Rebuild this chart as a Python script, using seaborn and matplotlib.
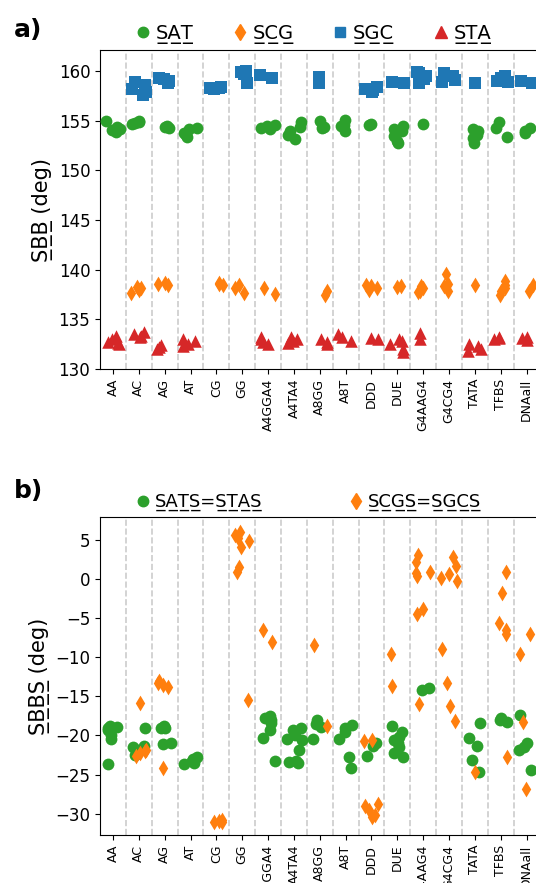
import numpy as np
import pandas as pd
import matplotlib.pyplot as plt
from matplotlib.lines import Line2D
import seaborn as sns

# categorias (passos / sistemas)
categories = ['AA', 'AC', 'AG', 'AT', 'CG', 'GG', 'A4GGA4', 'A4TA4', 'A8GG', 'A8T',
              'DDD', 'DUE', 'G4AAG4', 'G4CG4', 'TATA', 'TFBS', 'DNAall']

# painel a) SBB (deg), uma lista por categoria
sat = [[155.0, 154.4, 154.1, 153.9, 154.2], [154.9, 155.0, 154.7, 154.8], [154.4, 154.5, 154.3],
       [154.2, 153.8, 153.4, 154.3, 153.6], [], [], [154.5, 154.6, 154.3, 154.2],
       [154.9, 154.0, 153.2, 154.4, 153.6], [155.0, 154.4, 154.3], [155.1, 154.5, 154.0, 154.6],
       [154.7, 154.6], [154.5, 154.0, 153.5, 152.8, 154.2, 153.0], [154.7], [],
       [154.2, 153.6, 153.3, 152.8, 154.0], [154.9, 153.4, 154.3], [154.3, 154.0, 153.8]]
scg = [[], [138.2, 138.0, 138.3, 137.7], [138.6, 138.5, 138.7], [], [138.6, 138.5, 138.7],
       [138.2, 138.5, 137.7], [138.2, 137.6], [], [137.9, 137.5], [], [138.4, 138.2, 138.5, 138.0],
       [138.3, 138.4], [138.2, 137.8, 138.4, 137.9], [139.6, 138.4, 137.9, 138.6], [138.5],
       [138.9, 138.5, 137.9, 137.5, 138.2], [138.5, 137.9]]
sgc = [[], [157.6, 157.9, 158.2, 158.6, 158.9], [159.2, 159.0, 158.8, 159.3], [],
       [158.3, 158.3, 158.2, 158.4], [159.9, 159.7, 160.0, 158.8], [159.3, 159.6], [],
       [159.4, 158.8], [], [158.2, 157.9, 158.1, 158.4], [158.8, 158.9],
       [159.8, 159.5, 159.9, 158.8, 159.2], [159.8, 159.5, 159.1, 158.9], [158.8],
       [159.3, 159.5, 158.9, 159.0], [159.0, 158.8]]
sta = [[132.5, 132.7, 133.0, 133.3, 132.6], [133.5, 133.3, 133.7, 133.2], [132.2, 132.0, 132.4],
       [132.8, 132.3, 133.0, 132.5], [], [], [133.0, 132.7, 133.2, 132.5],
       [133.0, 132.8, 132.6, 133.2], [133.0, 132.5, 132.7], [133.2, 133.5, 132.8], [133.0, 133.1],
       [132.8, 132.0, 133.0, 131.7, 132.5], [133.6, 133.0], [], [132.5, 132.0, 131.8, 132.3],
       [133.0, 133.2, 133.1], [133.1, 132.9, 133.2]]

# painel b) SBBS (deg)
sats = [[-18.8, -18.9, -19.0, -19.3, -19.9, -20.4, -23.7], [-19.0, -21.3, -21.5, -21.9, -22.5],
        [-18.8, -19.0, -19.1, -20.9, -21.1], [-23.0, -23.3, -23.5, -23.6, -23.2, -22.8], [], [],
        [-17.5, -17.8, -18.0, -18.4, -19.3, -20.3, -23.3],
        [-19.0, -19.3, -19.9, -20.4, -20.6, -21.8, -23.3, -23.5, -23.4],
        [-18.0, -18.5, -18.9, -20.5], [-18.7, -19.0, -19.6, -20.5, -22.8, -24.2],
        [-21.3, -22.6, -21.0], [-18.8, -19.5, -20.2, -20.6, -21.0, -21.5, -22.3, -22.8],
        [-14.2, -14.0], [], [-18.4, -20.3, -21.4, -23.1, -24.6], [-17.8, -18.0, -18.3],
        [-17.4, -20.9, -21.5, -21.8, -24.4]]
scgs = [[], [-15.9, -22.0, -22.3, -22.6, -21.8], [-13.0, -13.3, -13.8, -13.5, -24.1], [],
        [-30.8, -31.0, -31.0, -30.9], [6.0, 5.6, 5.2, 4.8, 4.1, 0.9, 1.5, -15.5], [-6.6, -8.1], [],
        [-8.5, -18.8], [], [-20.6, -20.7, -28.8, -29.5, -30.2, -30.4, -29.0], [-9.6, -13.7],
        [3.0, 2.2, 0.7, 0.9, 0.3, -3.8, -4.5, -16.0],
        [2.8, 1.6, 0.6, 0.1, -0.3, -9.0, -13.3, -16.2, -18.2], [-24.7],
        [0.9, -1.8, -5.6, -6.6, -7.0, -22.7], [-7.0, -9.6, -18.3, -26.8]]


def to_long(vals):
    rows = [(c, v) for c, vs in zip(categories, vals) for v in vs]
    return pd.DataFrame(rows, columns=['cat', 'val'])


def ul(s):
    # sublinhado com o caractere combinante U+0332
    return ''.join(ch + '\u0332' for ch in s)


plt.rcParams['font.family'] = ['DejaVu Sans']
np.random.seed(7)

fig = plt.figure(figsize=(5.36, 8.83), dpi=100)
ax1 = fig.add_axes([0.1866, 0.582, 0.82, 0.361])
ax2 = fig.add_axes([0.1866, 0.0544, 0.82, 0.3602])

# (valores, cor, marcador, tamanho no gráfico, tamanho na legenda, rótulo)
series_a = [(sat, 'tab:green', 'o', 8.5, 7.5, ul('SAT')), (scg, 'tab:orange', 'd', 8, 8, ul('SCG')),
            (sgc, 'tab:blue', 's', 8.5, 7.5, ul('SGC')), (sta, 'tab:red', '^', 9, 8, ul('STA'))]
series_b = [(sats, 'tab:green', 'o', 8.5, 7.5, ul('SATS') + '=' + ul('STAS')),
            (scgs, 'tab:orange', 'd', 8, 8, ul('SCGS') + '=' + ul('SGCS'))]

# (painel, séries, x da legenda, fonte da legenda, espaçamento entre colunas)
panels = [(ax1, series_a, 0.485, 14, 2.0), (ax2, series_b, 0.474, 13, 4.8)]

for ax, series, lx, lfs, cspace in panels:
    handles = []
    for vals, col, mk, sz, lsz, lab in series:
        sns.stripplot(data=to_long(vals), x='cat', y='val', order=categories, color=col,
                      marker=mk, size=sz, jitter=0.3, linewidth=0, ax=ax, zorder=3)
        handles.append(Line2D([], [], marker=mk, color=col, linestyle='', markersize=lsz, label=lab))
    for i in range(len(categories) - 1):
        ax.axvline(i + 0.5, color='#cccccc', ls='--', lw=1.2, zorder=0)
    ax.set_xlim(-0.5, len(categories) - 0.5)
    ax.set_xlabel('')
    ax.tick_params(axis='x', labelsize=9, rotation=90)
    ax.tick_params(axis='y', labelsize=12)
    ax.legend(handles=handles, loc='lower center', bbox_to_anchor=(lx, 0.995), ncol=len(handles),
              frameon=False, fontsize=lfs, handlelength=0.8, handletextpad=0.25,
              columnspacing=cspace, borderaxespad=0)

ax1.set_ylim(130, 162.1)
ax1.set_yticks([130, 135, 140, 145, 150, 155, 160])
ax1.set_ylabel(ul('SBB') + ' (deg)', fontsize=15)

ax2.set_ylim(-32.7, 7.9)
ax2.set_yticks([-30, -25, -20, -15, -10, -5, 0, 5])
ax2.set_ylabel(ul('SBBS') + ' (deg)', fontsize=15)

fig.text(0.025, 0.958, 'a)', fontsize=18, fontweight='bold')
fig.text(0.025, 0.436, 'b)', fontsize=18, fontweight='bold')

fig.savefig('out.png', dpi=100)
